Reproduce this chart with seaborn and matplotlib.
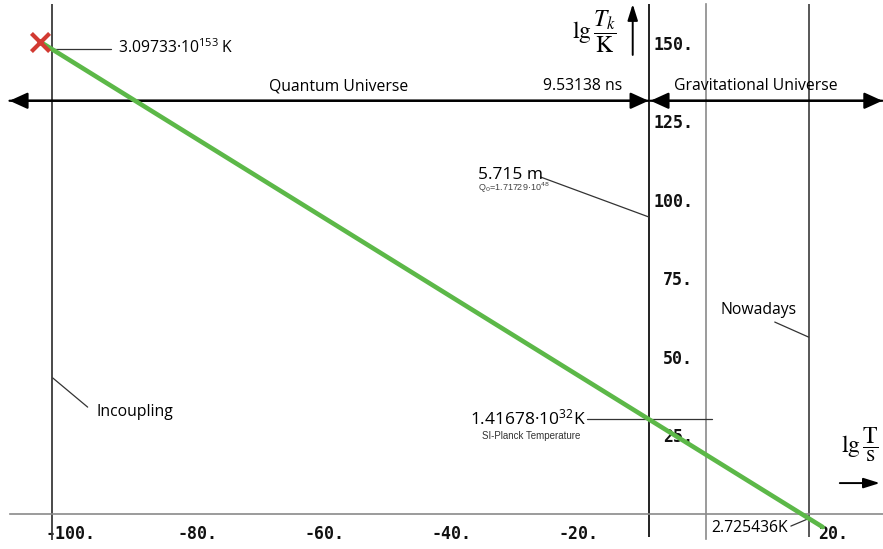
import matplotlib
matplotlib.use("Agg")
import matplotlib.pyplot as plt
import seaborn as sns
import pandas as pd

# ---- data (lg t/s , lg T/K) ----
line_lgt = [-104.8, 18.4]
line_lgT = [150.3, -4.3]
start_lgt = [-104.8]
start_lgT = [150.3]
xticks = [-100, -80, -60, -40, -20, 20]
xtick_labels = ["-100.", "-80.", "-60.", "-40.", "-20.", "20."]
yticks = [25, 50, 75, 100, 125, 150]
ytick_labels = ["25.", "50.", "75.", "100.", "125.", "150."]
epoch_x = [-102.9, -9.0, 0.0, 16.2]          # Incoupling, 9.53 ns, 1 s, Nowadays
epoch_colors = ["#3a3a3a", "#111111", "#8a8a8a", "#4a4a4a"]

sns.set_theme(style="white")
plt.rcParams["font.family"] = ["Open Sans", "DejaVu Sans"]
plt.rcParams["text.color"] = "black"
plt.rcParams["mathtext.fontset"] = "custom"
plt.rcParams["mathtext.rm"] = "Open Sans"
plt.rcParams["mathtext.it"] = "Open Sans:italic"
plt.rcParams["mathtext.bf"] = "Open Sans:bold"

fig = plt.figure(figsize=(8.83, 5.49), dpi=100)
ax = fig.add_axes([0, 0, 1, 1])
ax.set_xlim(-111.1, 27.9)
ax.set_ylim(-11.3, 163.6)

# spines as axes through the origin
for s in ["top", "right"]:
    ax.spines[s].set_visible(False)
ax.spines["left"].set_position(("data", 0))
ax.spines["bottom"].set_position(("data", 0))
ax.spines["left"].set_bounds(-8.0, 162.4)
ax.spines["bottom"].set_bounds(-109.6, 27.9)
for s in ["left", "bottom"]:
    ax.spines[s].set_color("#8a8a8a")
    ax.spines[s].set_linewidth(1.2)
ax.spines["left"].set_zorder(1)

ax.set_xticks(xticks)
ax.set_xticklabels(xtick_labels)
ax.set_yticks(yticks)
ax.set_yticklabels(ytick_labels)
ax.tick_params(axis="both", direction="inout", length=6, width=1.0, color="#7a7a7a",
               labelsize=12, pad=5)
ax.tick_params(axis="y", pad=6)
for lab in ax.get_xticklabels() + ax.get_yticklabels():
    lab.set_fontfamily("DejaVu Sans Mono")
    lab.set_fontweight("bold")
    lab.set_color("#111111")

# epoch vertical lines
bottoms = [-8.4, -7.5, -8.0, -7.5]
for xv, c, b in zip(epoch_x, epoch_colors, bottoms):
    if xv == 0.0:
        continue
    ax.vlines(xv, b, 162.4, color=c, lw=1.3, zorder=1)

# main line and start marker
df = pd.DataFrame({"lgt": line_lgt, "lgT": line_lgT})
sns.lineplot(data=df, x="lgt", y="lgT", ax=ax, color="#5cb848", lw=3.3, zorder=3)
sns.scatterplot(x=start_lgt, y=start_lgT, ax=ax, marker="x", s=170, color="#d23a32",
                linewidth=3.0, zorder=4)
ax.set_xlabel("")
ax.set_ylabel("")

# horizontal era arrows
arr = dict(arrowstyle="-|>,head_length=0.55,head_width=0.25", color="black", lw=1.6,
           shrinkA=0, shrinkB=0, mutation_scale=20)
ax.annotate("", xy=(-9.0, 131.5), xytext=(-109.6, 131.5), arrowprops=arr, zorder=2)
ax.annotate("", xy=(-109.6, 131.5), xytext=(-9.0, 131.5), arrowprops=arr, zorder=2)
ax.annotate("", xy=(-8.7, 131.5), xytext=(27.8, 131.5), arrowprops=arr, zorder=2)
ax.annotate("", xy=(27.8, 131.5), xytext=(-8.7, 131.5), arrowprops=arr, zorder=2)

# axis-label arrows
small = dict(arrowstyle="-|>,head_length=0.7,head_width=0.22", color="black", lw=1.4,
             shrinkA=0, shrinkB=0, mutation_scale=14)
ax.annotate("", xy=(-11.5, 162.3), xytext=(-11.5, 146.1), arrowprops=small)
ax.annotate("", xy=(27.4, 9.7), xytext=(21.1, 9.7), arrowprops=small)

ax.text(-17.6, 153.4, r"$\mathrm{lg}\,\dfrac{T_k}{\mathrm{K}}$", fontsize=17,
        math_fontfamily="stix", ha="center", va="center")
ax.text(24.3, 21.8, r"$\mathrm{lg}\,\dfrac{\mathrm{T}}{\mathrm{s}}$", fontsize=17,
        math_fontfamily="stix", ha="center", va="center")

# leader lines
lead = dict(color="#333333", lw=0.9, zorder=2)
ax.plot([-102.9, -93.6], [148.0, 148.0], **lead)
ax.plot([-26.0, -9.0], [107.2, 94.5], **lead)
ax.plot([-18.7, 0.94], [30.1, 30.1], **lead)
ax.plot([10.86, 16.2], [61.0, 56.2], **lead)
ax.plot([-102.8, -97.3], [43.2, 33.9], **lead)
ax.plot([13.4, 16.2], [-4.0, -1.6], **lead)

fs = 11.3
ax.text(-92.6, 148.3, "3.09733·10$^{153}$ K", fontsize=fs, ha="left", va="center")
ax.text(-57.8, 136.2, "Quantum Universe", fontsize=fs, ha="center", va="center")
ax.text(-13.1, 136.2, "9.53138 ns", fontsize=fs, ha="right", va="center")
ax.text(7.95, 136.2, "Gravitational Universe", fontsize=fs, ha="center", va="center")
ax.text(-35.9, 108.0, "5.715 m", fontsize=12.5, ha="left", va="center")
ax.text(-35.9, 103.7, "Q$_0$=1.71729·10$^{48}$", fontsize=6.5, ha="left", va="center",
        color="#444444", family="Liberation Sans", math_fontfamily="dejavusans")
ax.text(-18.9, 30.2, "1.41678·10$^{32}$K", fontsize=12.5, ha="right", va="center")
ax.text(-27.5, 24.7, "SI-Planck Temperature", fontsize=7, ha="center", va="center",
        color="#333333", family="Liberation Sans")
ax.text(8.26, 64.8, "Nowadays", fontsize=fs, ha="center", va="center")
ax.text(-95.9, 32.3, "Incoupling", fontsize=fs, ha="left", va="center")
ax.text(0.94, -4.6, "2.725436K", fontsize=fs, ha="left", va="center")

fig.savefig("out.png", dpi=100)
